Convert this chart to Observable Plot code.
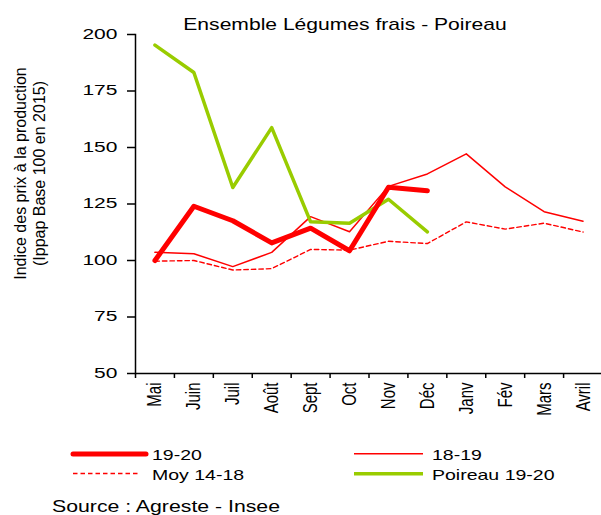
<!DOCTYPE html>
<html>
<head>
<meta charset="utf-8">
<script src="https://cdn.jsdelivr.net/npm/d3@7"></script>
<script src="https://cdn.jsdelivr.net/npm/@observablehq/plot@0.6"></script>
<style>
  html, body { margin: 0; padding: 0; background: #fff; }
  body { font-family: "Liberation Sans", Arial, sans-serif; color: #000; }
  #wrap { position: relative; width: 601px; height: 515px; overflow: hidden; }
  .abs { position: absolute; white-space: nowrap; line-height: 1; }
  .stretch { transform-origin: 0 50%; }
</style>
</head>
<body>
<div id="wrap"></div>
<script>
// ---- data ----
const months = ["Mai","Juin","Juil","Août","Sept","Oct","Nov","Déc","Janv","Fév","Mars","Avril"];
const s1920 = [100, 124, 117.6, 107.8, 114.3, 104.3, 132.4, 130.9];
const s1819 = [103.6, 103, 97.3, 103.6, 119.4, 112.7, 132.8, 138.3, 147.2, 132.6, 121.6, 117.4];
const moy1418 = [99.7, 100, 95.8, 96.4, 104.9, 104.6, 108.5, 107.5, 117.1, 113.9, 116.5, 112.6];
const poireau1920 = [195.3, 183.2, 132.3, 158.8, 117.1, 116.5, 127.1, 112.7];
const yTicks = [50, 75, 100, 125, 150, 175, 200];
const seriesNames = ["19-20", "18-19", "Moy 14-18", "Poireau 19-20"];
const title = "Ensemble Légumes frais - Poireau";
const yTitle = ["Indice des prix à la production", "(Ippap Base 100 en 2015)"];
const source = "Source : Agreste - Insee";

const RED = "#ff0000", GREEN = "#99cc00";
const rows = arr => arr.map((v, i) => ({m: months[i], v}));

const W = 601, H = 430, ML = 135, MR = -1;
const step = (W - ML - MR) / months.length;

const chart = Plot.plot({
  width: W, height: H,
  marginLeft: ML, marginRight: MR, marginTop: 34, marginBottom: 57,
  style: {fontFamily: "'Liberation Sans', Arial, sans-serif", fontSize: "14px", color: "#000", background: "transparent", overflow: "visible"},
  x: {type: "point", domain: months, padding: 0.5, round: false},
  y: {domain: [50, 200]},
  marks: [
    Plot.axisY({ticks: yTicks, tickSize: 8, tickPadding: 10, label: null, fontSize: 14, strokeWidth: 1.5}),
    Plot.axisX({tickSize: 5, tickFormat: () => "", dx: -step / 2, label: null, strokeWidth: 1.5}),
    Plot.axisX({tickSize: 0, tickRotate: -90, tickPadding: 9, label: null, fontSize: 15}),
    Plot.ruleY([50], {stroke: "#000", strokeWidth: 1.5}),
    Plot.frame({anchor: "left", stroke: "#000", strokeWidth: 1.5}),
    Plot.line(rows(moy1418), {x: "m", y: "v", stroke: RED, strokeWidth: 1.4, strokeDasharray: "4.5,3"}),
    Plot.line(rows(s1819), {x: "m", y: "v", stroke: RED, strokeWidth: 1.5}),
    Plot.line(rows(poireau1920), {x: "m", y: "v", stroke: GREEN, strokeWidth: 3.5, strokeLinejoin: "round"}),
    Plot.line(rows(s1920), {x: "m", y: "v", stroke: RED, strokeWidth: 5, strokeLinejoin: "round", strokeLinecap: "round"})
  ]
});

const wrap = document.getElementById("wrap");
chart.style.position = "absolute";
chart.style.left = "0px";
chart.style.top = "0px";
wrap.appendChild(chart);

// stretch y tick labels horizontally about their right edge (the reference text is widened)
chart.querySelectorAll('g[aria-label="y-axis tick label"] text').forEach(t => {
  const b = t.getBBox();
  const r = b.x + b.width;
  const tr = t.getAttribute("transform") || "";
  t.setAttribute("transform", `${tr} translate(${r},0) scale(1.5,1) translate(${-r},0)`);
});
// widen rotated x tick labels perpendicular to their direction
chart.querySelectorAll('g[aria-label="x-axis tick label"] text').forEach(t => {
  const b = t.getBBox();
  const cy = b.y + b.height / 2;
  const tr = t.getAttribute("transform") || "";
  t.setAttribute("transform", `${tr} translate(0,${cy}) scale(1,1.3) translate(0,${-cy})`);
});

function addText(txt, left, top, size, sx, lh) {
  const s = document.createElement("div");
  s.className = "abs stretch";
  s.textContent = txt;
  s.style.left = left + "px";
  s.style.top = top + "px";
  s.style.fontSize = size + "px";
  if (lh) s.style.lineHeight = lh;
  s.style.transform = `scaleX(${sx})`;
  wrap.appendChild(s);
  return s;
}

// title
const t = document.createElement("div");
t.className = "abs";
t.textContent = title;
t.style.fontSize = "17px";
t.style.left = "345px";
t.style.top = "15.6px";
t.style.transform = "translateX(-50%) scaleX(1.24)";
wrap.appendChild(t);

// y axis title
const yt = document.createElement("div");
yt.style.position = "absolute";
yt.style.width = "260px";
yt.style.height = "37px";
yt.style.left = (29.5 - 130) + "px";
yt.style.top = (173 - 18.5) + "px";
yt.style.textAlign = "center";
yt.style.fontSize = "16px";
yt.style.lineHeight = "18.5px";
yt.style.whiteSpace = "nowrap";
yt.style.transform = "rotate(-90deg)";
yt.innerHTML = yTitle.map(s => `<div>${s}</div>`).join("");
wrap.appendChild(yt);

// legend
const legend = [
  {name: seriesNames[0], x1: 73, x2: 146, y: 454, tx: 152, ty: 447.3, color: RED, w: 5, dash: null, cap: "round"},
  {name: seriesNames[1], x1: 354, x2: 423, y: 453.8, tx: 432, ty: 447.3, color: RED, w: 1.5, dash: null, cap: "butt"},
  {name: seriesNames[2], x1: 73, x2: 140, y: 473.5, tx: 152, ty: 467.3, color: RED, w: 1.4, dash: "4.5,3", cap: "butt"},
  {name: seriesNames[3], x1: 354, x2: 423, y: 473.8, tx: 432, ty: 467.3, color: GREEN, w: 3.5, dash: null, cap: "butt"}
];
const ns = "http://www.w3.org/2000/svg";
const lsvg = document.createElementNS(ns, "svg");
lsvg.setAttribute("width", W);
lsvg.setAttribute("height", 515);
lsvg.style.position = "absolute";
lsvg.style.left = "0px";
lsvg.style.top = "0px";
lsvg.style.pointerEvents = "none";
legend.forEach(d => {
  const l = document.createElementNS(ns, "line");
  l.setAttribute("x1", d.x1); l.setAttribute("x2", d.x2);
  l.setAttribute("y1", d.y); l.setAttribute("y2", d.y);
  l.setAttribute("stroke", d.color);
  l.setAttribute("stroke-width", d.w);
  l.setAttribute("stroke-linecap", d.cap);
  if (d.dash) l.setAttribute("stroke-dasharray", d.dash);
  lsvg.appendChild(l);
  addText(d.name, d.tx, d.ty, 15, 1.3);
});
wrap.appendChild(lsvg);

// source
addText(source, 52, 500.2, 17, 1.25, "0.85");
</script>
</body>
</html>
